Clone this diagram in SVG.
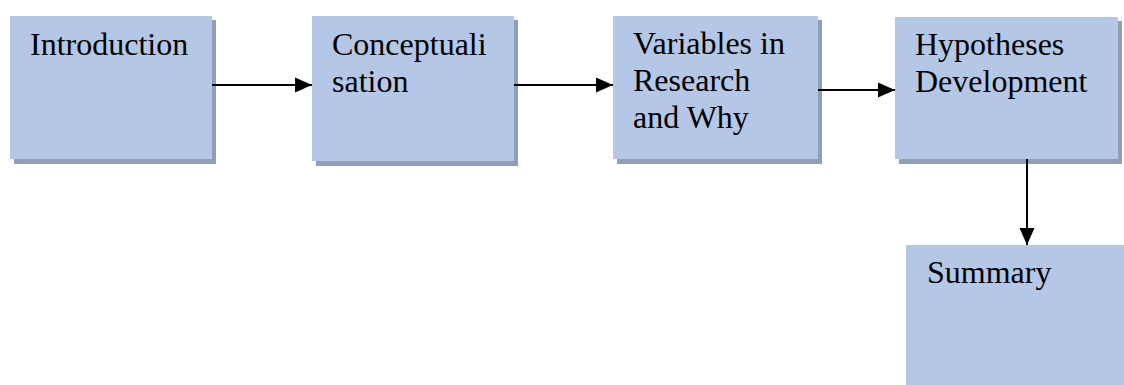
<svg xmlns="http://www.w3.org/2000/svg" width="1124" height="385" viewBox="0 0 1124 385">
  <style>
    .box { fill: #B4C7E7; }
    .shadow { fill: #909EB6; }
    .label { font-family: "Liberation Serif", "Times New Roman", serif; font-size: 32px; fill: #000; }
    .conn { stroke: #000; stroke-width: 2; fill: none; }
  </style>
  <defs>
    <marker id="arrow" markerUnits="userSpaceOnUse" markerWidth="17" markerHeight="16" refX="17" refY="8" orient="auto">
      <polygon points="0,0.5 17,8 0,15.5" fill="#000"/>
    </marker>
  </defs>
  <rect width="1124" height="385" fill="#fff"/>

  <g id="introduction">
    <rect class="shadow" x="14" y="20" width="202" height="144"/>
    <rect class="box" x="10" y="16" width="202" height="143"/>
    <text class="label" x="30" y="55">Introduction</text>
  </g>

  <g id="conceptualisation">
    <rect class="shadow" x="316" y="20" width="202" height="146"/>
    <rect class="box" x="312" y="16" width="202" height="145"/>
    <text class="label" x="332" y="55">Conceptuali</text>
    <text class="label" x="332" y="92">sation</text>
  </g>

  <g id="variables">
    <rect class="shadow" x="617" y="20" width="205" height="144"/>
    <rect class="box" x="613" y="16" width="205" height="143"/>
    <text class="label" x="633" y="54">Variables in</text>
    <text class="label" x="633" y="91">Research</text>
    <text class="label" x="633" y="128">and Why</text>
  </g>

  <g id="hypotheses">
    <rect class="shadow" x="899" y="21" width="223" height="143"/>
    <rect class="box" x="895" y="17" width="223" height="142"/>
    <text class="label" x="915" y="55">Hypotheses</text>
    <text class="label" x="915" y="92">Development</text>
  </g>

  <g id="summary">
    <rect class="box" x="906" y="245" width="222" height="145"/>
    <text class="label" x="927" y="283">Summary</text>
  </g>

  <g id="connectors">
    <line class="conn" x1="212" y1="85" x2="312" y2="85" marker-end="url(#arrow)"/>
    <line class="conn" x1="514" y1="85" x2="613" y2="85" marker-end="url(#arrow)"/>
    <line class="conn" x1="818" y1="90" x2="895" y2="90" marker-end="url(#arrow)"/>
    <line class="conn" x1="1027" y1="159" x2="1027" y2="245" marker-end="url(#arrow)"/>
  </g>
</svg>
